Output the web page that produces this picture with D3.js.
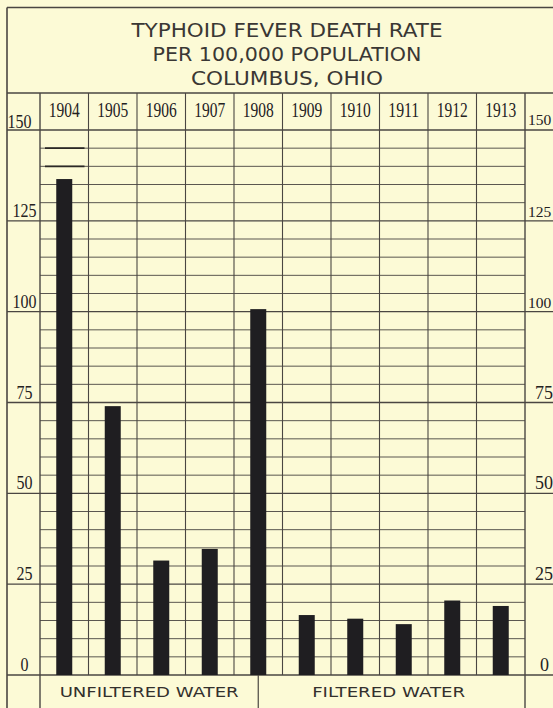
<!DOCTYPE html>
<html>
<head>
<meta charset="utf-8">
<script src="https://cdn.jsdelivr.net/npm/d3@7/dist/d3.min.js"></script>
<style>
  html, body { margin: 0; padding: 0; background: #fcfad6; }
  svg { display: block; }
</style>
</head>
<body>
<svg id="chart" width="553" height="708"></svg>
<script>
// ---- data ----
const titleLines = ["TYPHOID FEVER DEATH RATE", "PER 100,000 POPULATION", "COLUMBUS, OHIO"];
const years = ["1904", "1905", "1906", "1907", "1908", "1909", "1910", "1911", "1912", "1913"];
const rates = [136.5, 74, 31.5, 34.7, 100.7, 16.5, 15.5, 14, 20.5, 19];
const yTicks = [0, 25, 50, 75, 100, 125, 150];
const groupLabels = ["UNFILTERED WATER", "FILTERED WATER"];
const groupFirstYear = ["1904", "1908"];   // group spans start (1908 split at its middle)
const groupLastYear = ["1908", "1913"];

// ---- layout ----
const W = 553, H = 708;
const frameL = 7, frameT = 7.5, frameR = 553;
const titleBottom = 93;
const plotL = 40, plotR = 525, plotT = 130, plotB = 675;
const ink = "#4a4642";
const svg = d3.select("#chart");

svg.append("rect").attr("width", W).attr("height", H).attr("fill", "#fcfad6");

const x = d3.scaleBand().domain(years).range([plotL, plotR]).paddingInner(0).paddingOuter(0);
const y = d3.scaleLinear().domain([0, 150]).range([plotB, plotT]);

// minor gridlines every 5 within plot
const minor = d3.range(0, 151, 5).filter(v => v % 25 !== 0);
svg.append("g").selectAll("line").data(minor).join("line")
  .attr("x1", plotL).attr("x2", plotR)
  .attr("y1", d => y(d)).attr("y2", d => y(d))
  .attr("stroke", ink).attr("stroke-width", 1).attr("opacity", 0.9);

// emphasised segments at top of 1904 column
svg.append("g").selectAll("line").data([145, 140]).join("line")
  .attr("x1", x("1904") + 5).attr("x2", x("1904") + x.bandwidth() - 4)
  .attr("y1", d => y(d)).attr("y2", d => y(d))
  .attr("stroke", "#2b2826").attr("stroke-width", 1.8);

// major gridlines across full width
svg.append("g").selectAll("line").data(yTicks).join("line")
  .attr("x1", frameL).attr("x2", frameR)
  .attr("y1", d => y(d)).attr("y2", d => y(d))
  .attr("stroke", ink).attr("stroke-width", 1.4);

// vertical column lines
const colEdges = years.map(d => x(d)).concat([plotR]);
svg.append("g").selectAll("line").data(colEdges).join("line")
  .attr("x1", d => d).attr("x2", d => d)
  .attr("y1", titleBottom).attr("y2", (d, i) => (i === 0 || i === colEdges.length - 1) ? H : plotB)
  .attr("stroke", ink).attr("stroke-width", (d, i) => (i === 0 || i === colEdges.length - 1) ? 1.4 : 1.1);

// frame
svg.append("line").attr("x1", frameL).attr("x2", frameL).attr("y1", frameT).attr("y2", H)
  .attr("stroke", ink).attr("stroke-width", 1.6);
svg.append("line").attr("x1", frameL).attr("x2", frameR).attr("y1", frameT).attr("y2", frameT)
  .attr("stroke", ink).attr("stroke-width", 1.6);
svg.append("line").attr("x1", frameL).attr("x2", frameR).attr("y1", titleBottom).attr("y2", titleBottom)
  .attr("stroke", ink).attr("stroke-width", 1.4);

// bottom group divider
const splitX = x(groupFirstYear[1]) + x.bandwidth() / 2;
svg.append("line").attr("x1", splitX).attr("x2", splitX).attr("y1", plotB).attr("y2", H)
  .attr("stroke", ink).attr("stroke-width", 1.2);

// bars
const barW = 16;
svg.append("g").selectAll("rect").data(years).join("rect")
  .attr("x", d => x(d) + x.bandwidth() / 2 - barW / 2)
  .attr("width", barW)
  .attr("y", (d, i) => y(rates[i]))
  .attr("height", (d, i) => y(0) - y(rates[i]))
  .attr("fill", "#1f1e21");

// title
const titleY = [37, 60.5, 84.5];
const titleW = [311, 269, 192];
svg.append("g").selectAll("text").data(titleLines).join("text")
  .attr("x", 287).attr("y", (d, i) => titleY[i])
  .attr("text-anchor", "middle")
  .attr("font-family", "'DejaVu Sans', sans-serif")
  .attr("font-size", 19.5).attr("font-weight", 400)
  .attr("fill", "#3a3734")
  .attr("textLength", (d, i) => titleW[i]).attr("lengthAdjust", "spacingAndGlyphs")
  .text(d => d);

// year labels
svg.append("g").selectAll("text").data(years).join("text")
  .attr("x", d => x(d) + x.bandwidth() / 2).attr("y", 117)
  .attr("text-anchor", "middle")
  .attr("font-family", "'Liberation Serif', serif")
  .attr("font-size", 20).attr("fill", "#24211f")
  .attr("textLength", 31).attr("lengthAdjust", "spacingAndGlyphs")
  .text(d => d);

// left axis labels
svg.append("g").selectAll("text").data(yTicks).join("text")
  .attr("x", d => d === 150 ? 19.5 : 24.5)
  .attr("y", d => d === 150 ? y(d) - 2 : y(d) - 4)
  .attr("text-anchor", "middle")
  .attr("font-family", "'Liberation Serif', serif")
  .attr("font-size", 18).attr("fill", "#24211f")
  .attr("textLength", d => String(d).length * 8).attr("lengthAdjust", "spacingAndGlyphs")
  .text(d => d);

// right axis labels
svg.append("g").selectAll("text").data(yTicks).join("text")
  .attr("x", d => String(d).length === 3 ? 528 : (d === 0 ? 540 : 535))
  .attr("y", d => d === 150 ? y(d) - 5 : y(d) - 4)
  .attr("text-anchor", "start")
  .attr("font-family", "'Liberation Serif', serif")
  .attr("font-size", d => String(d).length === 3 ? 15.5 : 18)
  .attr("fill", "#24211f")
  .text(d => d);
</script>
<script>
// group labels
(function () {
  const svg = d3.select("#chart");
  const x = d3.scaleBand().domain(years).range([plotL, plotR]);
  const splitX = x(groupFirstYear[1]) + x.bandwidth() / 2;
  const gStart = [plotL, splitX];
  const gEnd = [splitX, plotR];
  const gW = [179, 153];
  svg.append("g").selectAll("text").data(groupLabels).join("text")
    .attr("x", (d, i) => (gStart[i] + gEnd[i]) / 2 - (i === 1 ? 3 : 0))
    .attr("y", 697)
    .attr("text-anchor", "middle")
    .attr("font-family", "'DejaVu Sans', sans-serif")
    .attr("font-size", 14).attr("fill", "#33302d")
    .attr("textLength", (d, i) => gW[i]).attr("lengthAdjust", "spacingAndGlyphs")
    .text(d => d);
})();
</script>
</body>
</html>
